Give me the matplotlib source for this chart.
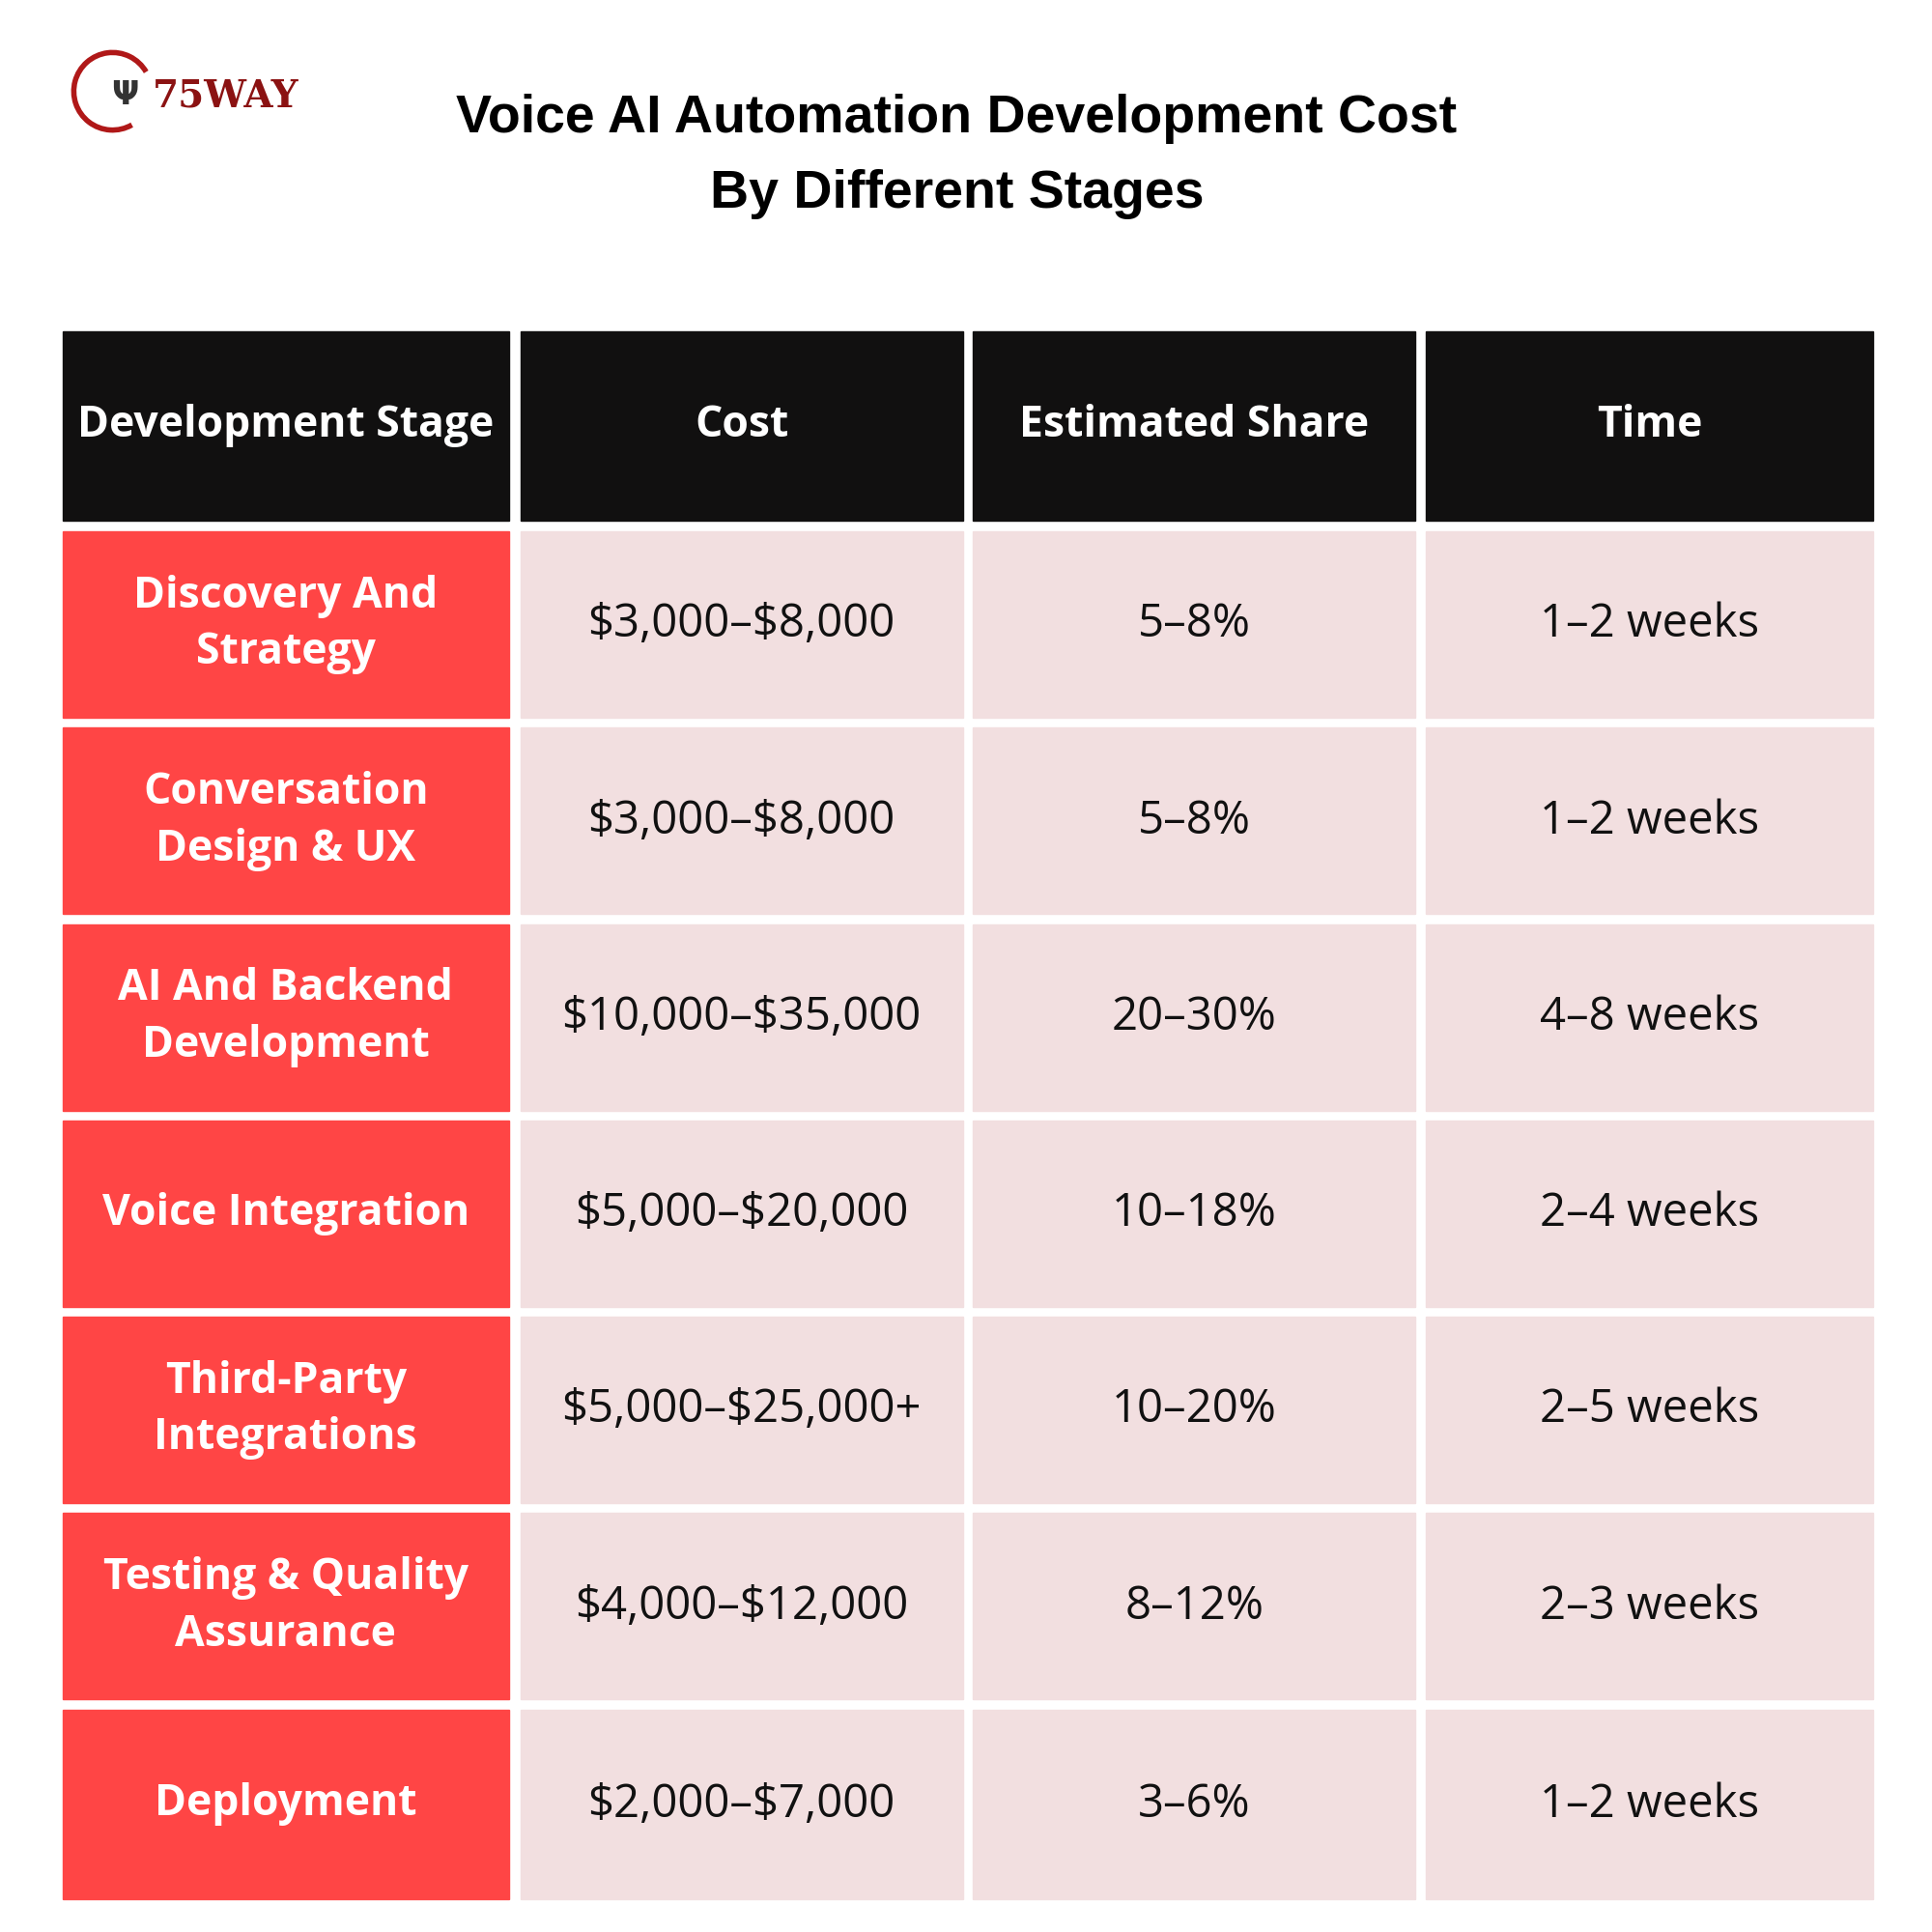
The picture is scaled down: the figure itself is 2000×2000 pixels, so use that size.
import matplotlib.pyplot as plt
from matplotlib.patches import Rectangle, Arc

plt.rcParams["text.parse_math"] = False

headers = ["Development Stage", "Cost", "Estimated Share", "Time"]
stages = ["Discovery And\nStrategy", "Conversation\nDesign & UX", "AI And Backend\nDevelopment",
          "Voice Integration", "Third-Party\nIntegrations", "Testing & Quality\nAssurance", "Deployment"]
costs = ["$3,000–$8,000", "$3,000–$8,000", "$10,000–$35,000", "$5,000–$20,000",
         "$5,000–$25,000+", "$4,000–$12,000", "$2,000–$7,000"]
shares = ["5–8%", "5–8%", "20–30%", "10–18%", "10–20%", "8–12%", "3–6%"]
times = ["1–2 weeks", "1–2 weeks", "4–8 weeks", "2–4 weeks", "2–5 weeks", "2–3 weeks", "1–2 weeks"]

fig = plt.figure(figsize=(20, 20), dpi=100)
ax = fig.add_axes([0, 0, 1, 1])
ax.set_xlim(0, 1545)
ax.set_ylim(1545, 0)
ax.axis("off")

col_x = [50, 416, 778, 1140]
col_w = [357, 354, 354, 358]
head_top, head_h = 265, 151
row_top, row_h, gap = 425, 149, 8

font = "Open Sans"
for c, h in enumerate(headers):
    ax.add_patch(Rectangle((col_x[c], head_top), col_w[c], head_h, color="#111010"))
    ax.text(col_x[c] + col_w[c] / 2, head_top + head_h / 2, h, color="white", fontsize=32,
            fontweight="bold", family=font, ha="center", va="center")

for r in range(len(stages)):
    y = row_top + r * (row_h + gap)
    h = row_h + (3 if r == len(stages) - 1 else 0)
    vals = [stages[r], costs[r], shares[r], times[r]]
    for c, v in enumerate(vals):
        fc = "#FF4545" if c == 0 else "#F2DFE0"
        ax.add_patch(Rectangle((col_x[c], y), col_w[c], h, color=fc))
        if c == 0:
            ax.text(col_x[c] + col_w[c] / 2, y + h / 2, v, color="white", fontsize=32,
                    fontweight="bold", family=font, ha="center", va="center", linespacing=1.4)
        else:
            ax.text(col_x[c] + col_w[c] / 2, y + h / 2, v, color="#111111", fontsize=34,
                    family=font, ha="center", va="center")

ax.text(765, 95, "Voice AI Automation Development Cost", fontsize=40, fontweight="bold",
        family="Liberation Sans", ha="center", va="center", color="black")
ax.text(765, 155, "By Different Stages", fontsize=40, fontweight="bold",
        family="Liberation Sans", ha="center", va="center", color="black")

# logo
ax.add_patch(Arc((90, 73), 62, 62, theta1=60, theta2=330, color="#B01818", lw=4))
ax.text(100, 76, "Ψ", fontsize=24, color="#333333", ha="center", va="center", fontweight="bold")
ax.text(122, 77, "75WAY", fontsize=28, color="#8B1212", ha="left", va="center",
        fontweight="bold", family="DejaVu Serif")

fig.savefig("out.png", dpi=100, facecolor="white")
